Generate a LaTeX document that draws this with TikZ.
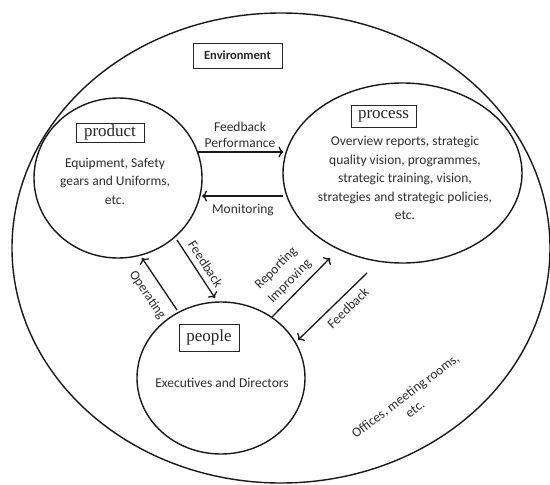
\documentclass[tikz,border=0pt]{standalone}
\usepackage{fontspec}
\setmainfont{Carlito}
\newfontfamily\tagfont{Liberation Serif}
\usetikzlibrary{shapes.geometric,arrows.meta,calc}

\begin{document}
\begin{tikzpicture}[x=1pt,y=-1pt,
  ring/.style={draw=black!90,ellipse,line width=1.4pt,inner sep=0pt},
  tagbox/.style={draw=black!85,line width=0.9pt,inner sep=0pt,
    font=\tagfont\fontsize{17}{17}\selectfont,text=black!85},
  body/.style={align=center,font=\fontsize{13.5}{18.5}\selectfont,text=black!82},
  note/.style={align=center,font=\fontsize{13.5}{16}\selectfont,text=black!82},
  link/.style={draw=black!90,line width=1.3pt,-{To[length=5pt,width=11pt,line width=1.3pt]}}]
\useasboundingbox (0,0) rectangle (550,485);

% outer environment and the three components
\node[ring,minimum width=538pt,minimum height=470pt] (env) at (281,248) {};
\node[ring,minimum width=168pt,minimum height=160pt] (prod) at (118,178) {};
\node[ring,minimum width=239pt,minimum height=180pt] (proc) at (402.5,173) {};
\node[ring,minimum width=168pt,minimum height=152pt] (peop) at (221,378) {};

% titles
\node[draw=black!85,line width=0.9pt,minimum width=89pt,minimum height=25pt,inner sep=0pt,
  font=\bfseries\fontsize{12.5}{12.5}\selectfont,text=black!85] (envtag) at (237.5,55.5) {Environment};
\node[tagbox,minimum width=68pt,minimum height=19pt] (prodtag) at (110,132.5) {product};
\node[tagbox,minimum width=65pt,minimum height=22pt] (proctag) at (383.5,116) {process};
\node[tagbox,minimum width=60pt,minimum height=27pt] (peoptag) at (209,337.5) {people};

% contents
\node[body] (prodtxt) at (115,181) {Equipment, Safety\\gears and Uniforms,\\etc.};
\node[body] (proctxt) at (405,178) {Overview reports, strategic\\quality vision, programmes,\\strategic training, vision,\\strategies and strategic policies,\\etc.};
\node[body] (peoptxt) at (222,383) {Executives and Directors};
\node[note,rotate=37] (place) at (410,402) {Offices, meeting rooms,\\etc.};

% flows between components
\draw[link] ($(prod.center)+(80,-26)$) -- ($(proc.center)+(-119,-21)$);
\draw[link] ($(proc.center)+(-120,23)$) -- ($(prod.center)+(84,18)$);
\draw[link] ($(prod.center)+(59,62)$) -- ($(peop.center)+(-6,-80)$);
\draw[link] ($(peop.center)+(-44,-68)$) -- ($(prod.center)+(24,80)$);
\draw[link] ($(peop.center)+(51,-61)$) -- ($(proc.center)+(-72.5,85)$);
\draw[link] ($(proc.center)+(-35.5,100)$) -- ($(peop.center)+(77,-38)$);

% flow labels
\node[note] (fp) at (240,135) {Feedback\\Performance};
\node[note] (mon) at (243,210) {Monitoring};
\node[note,rotate=-57] (fbl) at (205.7,264) {Feedback};
\node[note,rotate=-56] (op) at (147.3,295) {Operating};
\node[note,rotate=45.5,font=\fontsize{13.5}{19}\selectfont] (rep) at (283,275) {Reporting\\Improving};
\node[note,rotate=44] (fbr) at (348,308) {Feedback};
\end{tikzpicture}
\end{document}
